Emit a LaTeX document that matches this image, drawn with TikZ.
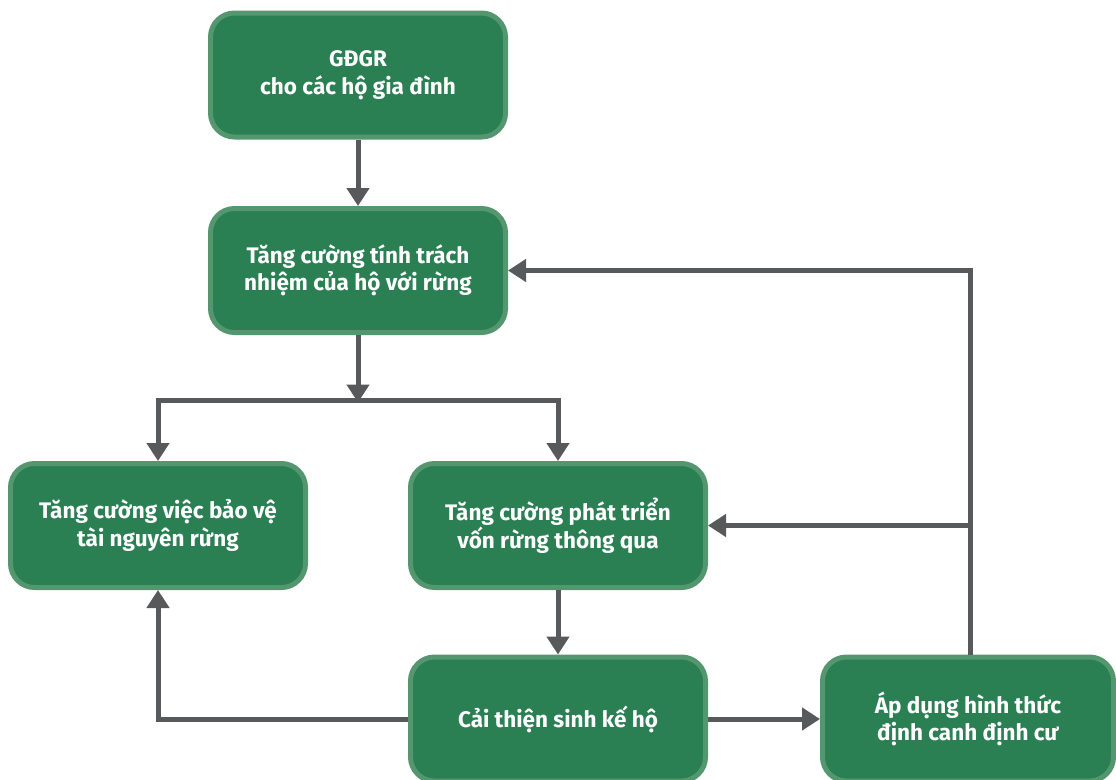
\documentclass[tikz,border=0pt]{standalone}
\usepackage{fontspec}
\setmainfont{Fira Sans}
\usetikzlibrary{arrows.meta,positioning}
\definecolor{boxfill}{RGB}{42,127,83}
\definecolor{boxedge}{RGB}{84,150,110}
\definecolor{arrowgray}{RGB}{88,89,91}
\tikzset{
  gbox/.style={draw=boxedge, fill=boxfill, line width=5pt, rounded corners=24pt,
    minimum width=295pt, minimum height=124pt, align=center, text=white,
    font=\fontsize{22.5}{27.5}\selectfont\bfseries, inner sep=0pt},
  conn/.style={draw=arrowgray, line width=5pt},
  arr/.style={conn, -{Triangle[width=22pt,length=18pt]}},
}
\begin{document}
\begin{tikzpicture}[x=1pt,y=-1pt]
\useasboundingbox (0,0) rectangle (1116,779);
\clip (0,0) rectangle (1116,779);
\node[gbox] (b1) at (358,75) {GĐGR\\cho các hộ gia đình};
\node[gbox] (b2) at (358,270.5) {Tăng cường tính trách\\nhiệm của hộ với rừng};
\node[gbox] (b3) at (158,525.5) {Tăng cường việc bảo vệ\\tài nguyên rừng};
\node[gbox] (b4) at (558,525.5) {Tăng cường phát triển\\vốn rừng thông qua};
\node[gbox, minimum height=124pt] (b5) at (558,719) {Cải thiện sinh kế hộ};
\node[gbox, minimum width=291pt] (b6) at (968,719) {Áp dụng hình thức\\định canh định cư};
\coordinate (split) at (358,400);
\coordinate (sl) at (158,400);
\coordinate (sr) at (558,400);
\coordinate (fb) at (970,525.5);
\coordinate (ft) at (970,270.5);
\path[arr] (b1.south) -- (b2.north);
\path[arr] (b2.south) -- ([yshift=-2.5pt]split);
\path[conn] ([xshift=-2.5pt]sl) -- ([xshift=2.5pt]sr);
\path[arr] ([yshift=-2.5pt]sl) -- (b3.north);
\path[arr] ([yshift=-2.5pt]sr) -- (b4.north);
\path[arr] (b4.south) -- (b5.north);
\path[arr] (b5.west) -| (b3.south);
\path[arr] (b5.east) -- (b6.west);
\path[conn] ([xshift=2pt]b6.north) -- ([yshift=-2.5pt]ft);
\path[arr] ([xshift=2.5pt]ft) -- (b2.east);
\path[arr] (fb) -- (b4.east);
\end{tikzpicture}
\end{document}
